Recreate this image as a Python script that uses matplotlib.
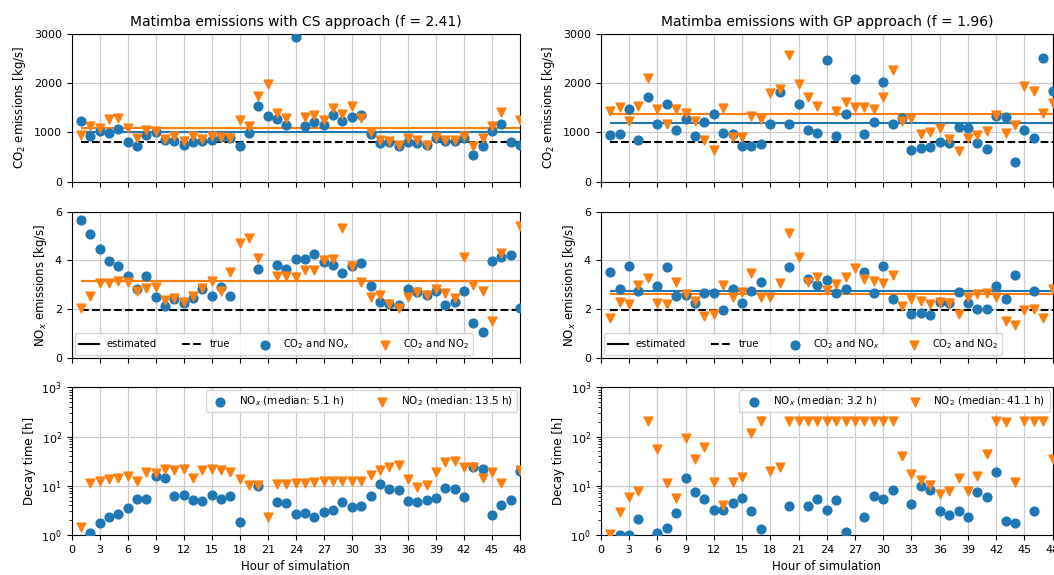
import numpy as np
import matplotlib
matplotlib.use("Agg")
import matplotlib.pyplot as plt
from matplotlib.lines import Line2D

nan = np.nan
hours = np.arange(1, 49)

# ---- CS approach (left column) ----
cs_co2_nox = [1234, 936, 1030, 990, 1064, 807, 730, 952, 1003, 844, 824, 750, 804, 820, 844, 901,
              888, 732, 990, 1539, 1336, 1265, 1160, 2936, 1136, 1214, 1160, 1356, 1240, 1322, 1346, 966,
              777, 797, 729, 814, 793, 736, 878, 820, 817, 890, 546, 729, 1020, 1176, 807, 749]
cs_co2_no2 = [956, 1132, 1100, 1278, 1298, 1100, 884, 1058, 1024, 864, 929, 834, 935, 868, 929, 905,
              895, 1244, 1125, 1732, 1976, 1396, 1300, nan, 1315, 1355, 1261, 1505, 1372, 1539, 1298, 1010,
              840, 830, 746, 888, 840, 746, 901, 840, 840, 935, 732, 878, 1125, 1406, nan, 1254]
cs_nox_nox = [5.65, 5.10, 4.49, 3.97, 3.78, 3.36, 2.85, 3.38, 2.52, 2.12, 2.41, 2.27, 2.48, 2.85, 2.56, 2.90,
              2.56, nan, nan, 3.67, nan, 3.82, 3.64, 4.06, 4.07, 4.25, 3.94, 3.82, 3.50, 3.77, 3.90, 2.95,
              2.29, 2.23, 2.16, 2.81, 2.69, 2.58, 2.76, 2.19, 2.29, 2.75, 1.42, 1.08, 3.96, 4.16, 4.24, 2.07]
cs_nox_no2 = [2.04, 2.56, 3.06, 3.06, 3.15, 3.10, 2.75, 2.87, 2.93, 2.36, 2.45, 2.28, 2.55, 2.86, 3.17, 2.75,
              3.52, 4.73, 4.94, 4.10, nan, 3.37, 3.35, 3.33, 3.60, 3.60, 4.00, 4.07, 5.32, 3.78, 3.11, 2.52,
              2.58, 2.23, 2.05, 2.52, 2.69, 2.58, 2.85, 2.65, 2.48, 4.15, 3.01, 2.74, 1.52, 4.30, nan, 5.40]
cs_decay_nox = [nan, 1.08, 1.78, 2.32, 2.71, 3.48, 5.4, 5.4, 15.8, 14.6, 6.3, 6.5, 5.1, 5.0, 6.5, 5.3,
                6.3, 1.87, nan, 10.0, nan, 4.7, 4.5, 2.71, 2.8, 2.32, 2.93, 3.2, 4.7, 3.65, 3.95, 6.3,
                10.9, 8.7, 8.1, 4.9, 4.7, 5.1, 5.6, 9.1, 8.5, 5.8, 23.7, 21.6, 2.5, 4.0, 5.1, 19.9]
cs_decay_no2 = [1.48, 11.2, 12.5, 13.5, 14.1, 15.8, 12.5, 19.3, 18.5, 21.6, 20.9, 21.6, 14.1, 20.9, 22.0, 20.9,
                18.8, 13.7, 10.4, 10.4, 2.36, 10.7, 10.7, 11.2, 11.2, 11.7, 12.5, 12.5, 12.5, 12.5, 12.5, 16.6,
                20.9, 23.7, 26.4, 13.5, 9.6, 10.4, 18.8, 29.9, 31.8, 23.7, 24.4, 14.1, 18.8, 11.2, nan, 20.9]
cs_est_co2 = [1017, 1085]
cs_est_nox = [3.17, 3.14]
cs_medians = [5.1, 13.5]
cs_f = 2.41

# ---- GP approach (right column) ----
gp_co2_nox = [949, 963, 1471, 847, 1722, 1166, 1573, 1051, 1275, 929, 1207, 1369, 983, 969, 725, 725,
              759, 1166, 1817, 1166, 1573, 1051, 983, 2475, 929, 1369, 2088, 963, 1220, 2034, 1166, 1288,
              644, 692, 712, 814, 793, 1119, 1098, 793, 664, 1336, 1322, 393, 1051, 881, 2508, 1851]
gp_co2_no2 = [1437, 1525, 1241, 1546, 2102, 1471, 1166, 1471, 1403, 1241, 847, 644, 1492, 915, 915, 1342,
              1275, 1797, 1885, 2576, 1980, 1715, 1546, nan, 1437, 1627, 1525, 1512, 1471, 1715, 2271, 1234,
              1302, 969, 1017, 1085, 868, 624, 881, 949, 1030, 1356, 983, 1153, 1946, 1844, 1403, 1607]
gp_nox_nox = [3.52, 2.84, 3.76, 2.73, nan, 2.97, 3.73, 2.55, 2.58, 2.24, 2.66, 2.66, 1.96, 2.84, 2.26, 2.76,
              3.11, nan, nan, 3.73, nan, 3.24, 2.99, 3.21, 2.66, 2.81, nan, 3.52, 2.66, 3.76, 2.44, nan,
              1.82, 1.86, 1.75, 2.29, 2.24, 2.70, 2.24, 2.00, 2.00, 2.97, 2.44, 3.39, nan, 2.75, nan, nan]
gp_nox_no2 = [1.62, 2.30, 2.20, 2.99, 3.30, 2.27, 2.20, 3.12, 2.63, 2.34, 1.74, 1.79, 3.00, 2.50, 2.72, 3.48,
              2.52, 2.52, 3.08, 5.12, 4.15, 3.13, 3.31, 2.78, 3.05, 3.31, 3.68, 3.24, 3.15, 3.08, 3.39, 2.14,
              2.40, 2.32, 2.21, 2.30, 2.25, 1.79, 2.50, 2.64, 2.68, 2.50, 1.52, 1.37, 1.96, 1.99, 1.65, 2.81]
gp_decay_nox = [nan, 1.0, 1.0, 2.11, nan, 1.1, 1.37, 2.8, 14.2, 7.4, 5.4, 3.2, 3.2, 4.5, 5.6, 3.0,
                1.32, nan, nan, 3.9, nan, 3.9, 5.4, 3.2, 5.1, 1.13, nan, 2.3, 6.1, 5.4, 8.2, nan,
                4.3, 10.0, 8.2, 3.0, 2.6, 3.0, 2.3, 7.6, 5.8, 19.3, 1.95, 1.75, nan, 3.1, nan, nan]
gp_decay_no2 = [1.05, 2.9, 6.0, 7.9, 210, 55.8, 11.2, 5.6, 92, 35, 62, 11.7, 4.1, 11.7, 14.8, 118,
                210, 20.3, 24.4, 210, 210, 210, 210, 210, 210, 210, 210, 210, 210, 210, 210, 40.9,
                17.3, 13.1, 10.5, 6.8, 7.7, 14.2, 7.7, 16.0, 44.2, 210, 200, 12.1, 210, 210, 210, 35]
gp_est_co2 = [1186, 1376]
gp_est_nox = [2.74, 2.64]
gp_medians = [3.2, 41.1]
gp_f = 1.96

true_co2 = 810
true_nox = 1.97

xticks = np.arange(0, 49, 3)

plt.rcParams['font.family'] = ['DejaVu Sans']
fig = plt.figure(figsize=(10.54, 5.75), dpi=100)

lefts = [0.068, 0.570]
widths = [0.4253, 0.4288]
rows = [(0.684, 0.257), (0.3774, 0.2544), (0.0696, 0.2568)]

cols = [
    dict(title="Matimba emissions with CS approach (f = %.2f)" % cs_f,
         co2=(cs_co2_nox, cs_co2_no2), nox=(cs_nox_nox, cs_nox_no2),
         dec=(cs_decay_nox, cs_decay_no2), est_co2=cs_est_co2, est_nox=cs_est_nox, med=cs_medians),
    dict(title="Matimba emissions with GP approach (f = %.2f)" % gp_f,
         co2=(gp_co2_nox, gp_co2_no2), nox=(gp_nox_nox, gp_nox_no2),
         dec=(gp_decay_nox, gp_decay_no2), est_co2=gp_est_co2, est_nox=gp_est_nox, med=gp_medians),
]

ms = 40
tfs = 8
lfs = 8.5

for ci, c in enumerate(cols):
    axs = []
    for (b, h) in rows:
        axs.append(fig.add_axes([lefts[ci], b, widths[ci], h]))
    a1, a2, a3 = axs
    for ax in axs:
        ax.set_xlim(0, 48)
        ax.set_xticks(xticks)
        ax.grid(True, color='#cccccc', linewidth=0.9)
        ax.set_axisbelow(True)
        ax.tick_params(labelsize=tfs)
    a1.tick_params(labelbottom=False)
    a2.tick_params(labelbottom=False)

    # CO2 panel
    a1.scatter(hours, c['co2'][0], s=ms, color='C0', zorder=3)
    a1.scatter(hours, c['co2'][1], s=ms, marker='v', color='C1', zorder=3)
    a1.hlines(c['est_co2'][0], hours.min(), hours.max(), color='C0', lw=1.5, zorder=2)
    a1.hlines(c['est_co2'][1], hours.min(), hours.max(), color='C1', lw=1.5, zorder=2)
    a1.hlines(true_co2, hours.min(), hours.max(), color='k', ls='--', lw=1.5, zorder=2)
    a1.set_ylim(0, 3000)
    a1.set_yticks([0, 1000, 2000, 3000])
    a1.set_ylabel("CO$_2$ emissions [kg/s]", fontsize=lfs)
    a1.set_title(c['title'], fontsize=10)

    # NOx panel
    s1 = a2.scatter(hours, c['nox'][0], s=ms, color='C0', zorder=3)
    s2 = a2.scatter(hours, c['nox'][1], s=ms, marker='v', color='C1', zorder=3)
    a2.hlines(c['est_nox'][0], hours.min(), hours.max(), color='C0', lw=1.5, zorder=2)
    a2.hlines(c['est_nox'][1], hours.min(), hours.max(), color='C1', lw=1.5, zorder=2)
    a2.hlines(true_nox, hours.min(), hours.max(), color='k', ls='--', lw=1.5, zorder=2)
    a2.set_ylim(0, 6)
    a2.set_yticks([0, 2, 4, 6])
    a2.set_ylabel("NO$_x$ emissions [kg/s]", fontsize=lfs)
    h_est = Line2D([], [], color='k', lw=1.5)
    h_true = Line2D([], [], color='k', lw=1.5, ls='--')
    a2.legend([h_est, h_true, s1, s2], ["estimated", "true", "CO$_2$ and NO$_x$", "CO$_2$ and NO$_2$"],
              loc='lower left', ncol=4, fontsize=7.2, columnspacing=2.5, handlelength=2.0,
              borderaxespad=0.3, framealpha=0.8)

    # Decay panel
    a3.scatter(hours, c['dec'][0], s=ms, color='C0', zorder=3,
               label="NO$_x$ (median: %.1f h)" % c['med'][0])
    a3.scatter(hours, c['dec'][1], s=ms, marker='v', color='C1', zorder=3,
               label="NO$_2$ (median: %.1f h)" % c['med'][1])
    a3.set_yscale('log')
    a3.set_ylim(1, 1000)
    a3.set_ylabel("Decay time [h]", fontsize=lfs)
    a3.set_xlabel("Hour of simulation", fontsize=lfs)
    a3.legend(loc='upper right', ncol=2, fontsize=7.5, columnspacing=2.6, borderaxespad=0.3,
              framealpha=0.8)

fig.savefig("out.png", dpi=100)
